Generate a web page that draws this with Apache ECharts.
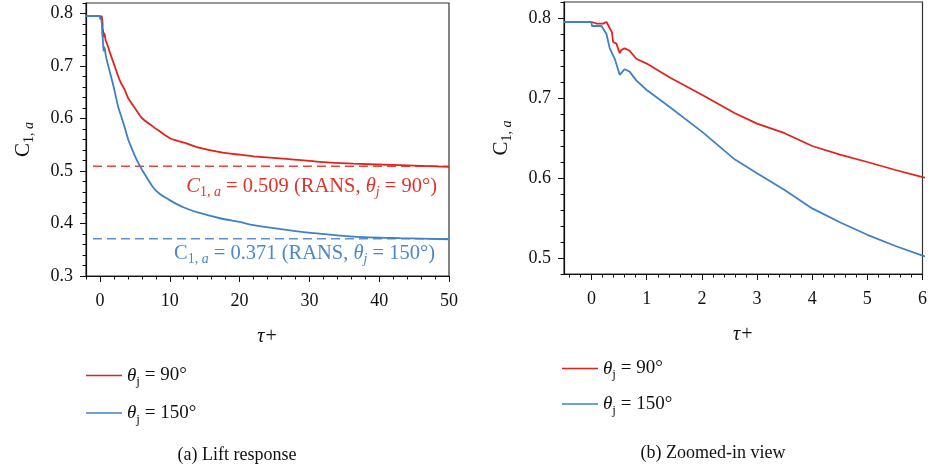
<!DOCTYPE html>
<html>
<head>
<meta charset="utf-8">
<script src="https://cdn.jsdelivr.net/npm/echarts@6/dist/echarts.min.js"></script>
<style>
  html, body { margin: 0; padding: 0; background: #fff; }
  #main { width: 930px; height: 468px; }
</style>
</head>
<body>
<div id="main"></div>
<script>
// data (tau+ vs C1,a)
const tau90 = [-2, 0, 0.1, 0.21, 0.27, 0.3, 0.37, 0.39, 0.45, 0.51, 0.54, 0.6, 0.69, 0.81, 1.0, 1.41, 2.0, 2.6, 3.0, 3.5, 4.0, 4.52, 5.0, 5.51, 6.0, 7.55, 8.5, 9.93, 11, 12.3, 14, 17.2, 20, 22, 26.7, 31, 36.3, 43, 50];
const c90 = [0.795, 0.795, 0.793, 0.793, 0.795, 0.794, 0.782, 0.770, 0.768, 0.756, 0.760, 0.762, 0.759, 0.749, 0.743, 0.726, 0.704, 0.681, 0.668, 0.656, 0.640, 0.629, 0.620, 0.610, 0.601, 0.585, 0.576, 0.563, 0.558, 0.553, 0.545, 0.536, 0.531, 0.528, 0.523, 0.518, 0.514, 0.511, 0.508];

const tau150 = [-2, 0, 0.005, 0.18, 0.21, 0.27, 0.33, 0.42, 0.51, 0.54, 0.6, 0.69, 0.81, 1.0, 1.41, 2.0, 2.6, 3.0, 3.5, 4.0, 4.52, 5.0, 5.51, 6.0, 7.55, 8.5, 9.93, 11, 12.3, 14, 17.2, 20, 22, 26.7, 31, 36.3, 43, 50];
const c150 = [0.795, 0.795, 0.790, 0.790, 0.789, 0.780, 0.762, 0.749, 0.729, 0.730, 0.736, 0.733, 0.722, 0.710, 0.689, 0.658, 0.623, 0.606, 0.585, 0.562, 0.544, 0.529, 0.515, 0.503, 0.470, 0.457, 0.445, 0.437, 0.429, 0.421, 0.410, 0.403, 0.397, 0.388, 0.381, 0.375, 0.372, 0.370];

// RANS reference values
const rans90 = 0.509;
const rans150 = 0.371;
const ransTau = [-1, 50];

// tick labels
const ticksXa = [0, 10, 20, 30, 40, 50];
const ticksYa = [0.3, 0.4, 0.5, 0.6, 0.7, 0.8];
const ticksXb = [0, 1, 2, 3, 4, 5, 6];
const ticksYb = [0.5, 0.6, 0.7, 0.8];

const name90 = 'θj = 90°';
const name150 = 'θj = 150°';

const RED = '#e2231a';
const BLUE = '#3f80c6';
const FONT = 'Liberation Serif';

function zip(xs, ys) {
    return xs.map((x, i) => [x, ys[i]]);
}

// minor tick positions
function steps(from, to, step) {
    const out = [];
    for (let v = from; v <= to + step / 2; v += step) out.push(+v.toFixed(4));
    return out;
}

function richText(size, color, key) {
    const sub = Math.round(size * 0.68);
    const c = {};
    c[key] = color;
    return {
        n: Object.assign({ fontFamily: FONT, fontSize: size, lineHeight: 26, verticalAlign: 'middle' }, c),
        i: Object.assign({ fontFamily: FONT, fontSize: size, fontStyle: 'italic', lineHeight: 26, verticalAlign: 'middle' }, c),
        s: Object.assign({ fontFamily: FONT, fontSize: sub, lineHeight: sub, verticalAlign: 'bottom' }, c),
        si: Object.assign({ fontFamily: FONT, fontSize: sub, fontStyle: 'italic', lineHeight: sub, verticalAlign: 'bottom' }, c)
    };
}

const chart = echarts.init(document.getElementById('main'));

function mainX(grid, min, max, labels) {
    return {
        type: 'value', gridIndex: grid, min: min, max: max, position: 'bottom',
        name: 'τ+', nameLocation: 'middle', nameGap: 51,
        nameTextStyle: { fontFamily: FONT, fontSize: 20, fontStyle: 'italic', color: '#111' },
        axisLine: { show: true, onZero: false, lineStyle: { color: '#111', width: 1.2 } },
        axisTick: { show: true, length: 6, customValues: labels, lineStyle: { color: '#111' } },
        axisLabel: { customValues: labels, margin: 16, fontFamily: FONT, fontSize: 18, color: '#111' },
        splitLine: { show: false }
    };
}
function minorX(grid, min, max, vals) {
    return {
        type: 'value', gridIndex: grid, min: min, max: max, position: 'bottom',
        axisLine: { show: false, onZero: false },
        axisTick: { show: true, length: 3.5, customValues: vals, lineStyle: { color: '#111' } },
        axisLabel: { show: false },
        splitLine: { show: false }
    };
}
function mainY(grid, min, max, labels) {
    return {
        type: 'value', gridIndex: grid, min: min, max: max, position: 'left',
        name: '{n|C}{s|1, }{si|a}', nameLocation: 'middle', nameGap: 50,
        nameTextStyle: { rich: richText(21, '#111', 'color') },
        axisLine: { show: true, onZero: false, lineStyle: { color: '#111', width: 1.2 } },
        axisTick: { show: true, length: 6, customValues: labels, lineStyle: { color: '#111' } },
        axisLabel: { customValues: labels, margin: 13, fontFamily: FONT, fontSize: 18, color: '#111',
            formatter: v => v.toFixed(1) },
        splitLine: { show: false }
    };
}
function minorY(grid, min, max, vals) {
    return {
        type: 'value', gridIndex: grid, min: min, max: max, position: 'left',
        axisLine: { show: false, onZero: false },
        axisTick: { show: true, length: 3.5, customValues: vals, lineStyle: { color: '#111' } },
        axisLabel: { show: false },
        splitLine: { show: false }
    };
}

function curve(name, xi, yi, data, color, smooth) {
    return {
        name: name, type: 'line', xAxisIndex: xi, yAxisIndex: yi,
        data: data, showSymbol: false, symbol: 'none', clip: true,
        smooth: smooth,
        lineStyle: { color: color, width: 1.8 }, itemStyle: { color: color },
        z: 3
    };
}
function dashed(value, color) {
    return {
        type: 'line', xAxisIndex: 0, yAxisIndex: 0,
        data: zip(ransTau, ransTau.map(() => value)),
        showSymbol: false, symbol: 'none', silent: true,
        lineStyle: { color: color, width: 1.5, type: [9, 5] },
        z: 2
    };
}

function legendFor(left, top, gap) {
    return {
        left: left, top: top, orient: 'vertical', itemGap: gap,
        icon: 'rect', itemWidth: 36, itemHeight: 1.6,
        data: [name90, name150],
        formatter: n => n === name90 ? '{i|θ}{s|j}{n| = 90°}' : '{i|θ}{s|j}{n| = 150°}',
        textStyle: { rich: richText(19, '#111', 'color') }
    };
}

const option = {
    animation: false,
    backgroundColor: '#fff',
    grid: [
        { left: 86, top: 3, width: 363, height: 273, show: true, borderColor: '#333', borderWidth: 1.2 },
        { left: 564, top: 2, width: 362, height: 272, show: true, borderColor: '#333', borderWidth: 1.2 }
    ],
    xAxis: [
        mainX(0, -2, 50, ticksXa),
        mainX(1, -0.5, 6, ticksXb),
        minorX(0, -2, 50, steps(-2, 50, 2)),
        minorX(1, -0.5, 6, steps(-0.4, 6, 0.2))
    ],
    yAxis: [
        mainY(0, 0.3, 0.82, ticksYa),
        mainY(1, 0.48, 0.82, ticksYb),
        minorY(0, 0.3, 0.82, steps(0.3, 0.82, 0.02)),
        minorY(1, 0.48, 0.82, steps(0.48, 0.82, 0.02))
    ],
    legend: [legendFor(81, 361, 15), legendFor(557, 354, 13)],
    title: [
        { text: '(a) Lift response', left: 232, top: 441, textAlign: 'center',
          textStyle: { fontFamily: FONT, fontSize: 18, fontWeight: 'normal', color: '#111' } },
        { text: '(b) Zoomed-in view', left: 708, top: 439, textAlign: 'center',
          textStyle: { fontFamily: FONT, fontSize: 18, fontWeight: 'normal', color: '#111' } }
    ],
    graphic: [
        { type: 'text', right: 930 - 437, top: 176, z: 10,
          style: { text: '{i|C}{s|1, }{si|a}{n| = 0.509 (RANS, }{i|θ}{si|j}{n| = 90°)}',
                   rich: richText(20.5, '#e0342b', 'fill') } },
        { type: 'text', right: 930 - 435, top: 243, z: 10,
          style: { text: '{n|C}{s|1, }{si|a}{n| = 0.371 (RANS, }{i|θ}{si|j}{n| = 150°)}',
                   rich: richText(20.5, '#4a88ca', 'fill') } }
    ],
    series: [
        dashed(rans90, '#e8443c'),
        dashed(rans150, '#5b93cf'),
        curve(name90, 0, 0, zip(tau90, c90), RED, 0.3),
        curve(name150, 0, 0, zip(tau150, c150), BLUE, 0.3),
        curve(name90, 1, 1, zip(tau90, c90), RED, false),
        curve(name150, 1, 1, zip(tau150, c150), BLUE, false)
    ]
};

chart.setOption(option);
</script>
</body>
</html>
